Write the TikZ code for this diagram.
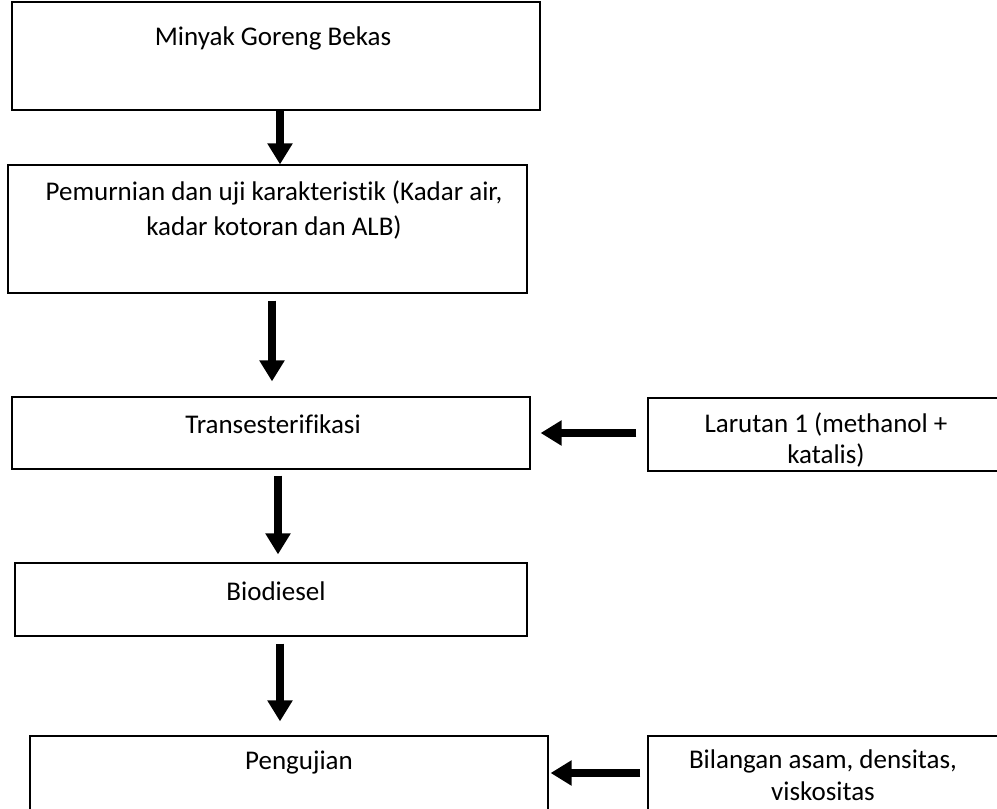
\documentclass[tikz,border=0pt]{standalone}
\usepackage{fontspec}
\setmainfont{Carlito}[Ligatures=NoCommon]
\usetikzlibrary{arrows.meta}

\begin{document}
\begin{tikzpicture}[
    x=1pt, y=-1pt,
    box/.style={draw=black, line width=1.2pt, inner sep=0pt},
    lbl/.style={font=\fontsize{27}{35}\selectfont, align=center, inner sep=0pt},
    sidelbl/.style={lbl, font=\fontsize{27}{31.5}\selectfont},
    flow/.style={black, line width=8pt, -{Triangle[length=21pt, width=24pt]}}
]

% ---------- page ----------
\useasboundingbox (0,0) rectangle (997,809);
\fill[white] (0,0) rectangle (997,809);
\clip (0,0) rectangle (997,809);

% ---------- main column ----------
\node[box, minimum width=528pt, minimum height=108pt] (minyak) at (276,56) {};
\node[box, minimum width=519pt, minimum height=128pt] (murni) at (267.5,229) {};
\node[box, minimum width=518pt, minimum height=72pt] (trans) at (271,433) {};
\node[box, minimum width=512pt, minimum height=73pt] (bio) at (271,599.5) {};
\node[box, minimum width=518pt, minimum height=80pt] (uji) at (289,776) {};

% ---------- side boxes ----------
\node[box, minimum width=352pt, minimum height=73pt] (larutan) at (824,434.5) {};
\node[box, minimum width=352pt, minimum height=80pt] (param) at (824,776) {};

% ---------- texts ----------
\node[lbl] (minyak-t) at (273,38) {Minyak Goreng Bekas};
\node[lbl] (murni-t) at (274,210) {Pemurnian dan uji karakteristik (Kadar air,\\kadar kotoran dan ALB)};
\node[lbl] (trans-t) at (273,424) {Transesterifikasi};
\node[sidelbl] (larutan-t) at (826,440) {Larutan 1 (methanol +\\katalis)};
\node[lbl] (bio-t) at (276,591) {Biodiesel};
\node[lbl] (uji-t) at (299,763) {Pengujian};
\node[sidelbl] (param-t) at (823,775) {Bilangan asam, densitas,\\viskositas};

% ---------- arrows down ----------
\draw[flow] ([xshift=4pt]minyak.south) -- ([xshift=4pt]minyak.south |- murni.north);
\draw[flow, shorten <=7pt, shorten >=15pt] ([xshift=4.5pt]murni.south) -- ([xshift=4.5pt]murni.south |- trans.north);
\draw[flow, shorten <=6pt, shorten >=8pt] ([xshift=7pt]trans.south) -- ([xshift=7pt]trans.south |- bio.north);
\draw[flow, shorten <=7pt, shorten >=14pt] ([xshift=9pt]bio.south) -- ([xshift=9pt]bio.south |- uji.north);

% ---------- arrows in from the side ----------
\draw[flow, shorten <=11pt, shorten >=10pt] (larutan.west |- 0,433) -- (trans.east |- 0,433);
\draw[flow, shorten <=7pt, shorten >=2pt] (param.west |- 0,773) -- (uji.east |- 0,773);

\end{tikzpicture}
\end{document}
